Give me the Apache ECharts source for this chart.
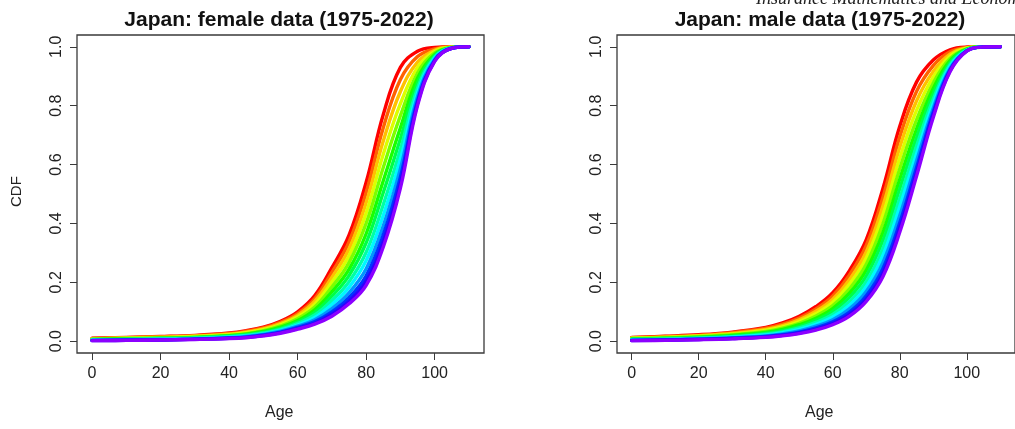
<!DOCTYPE html>
<html lang="en">
<head>
    <meta charset="UTF-8">
    <title>Japan CDF</title>
    <style>
        html, body { margin: 0; padding: 0; background: #fff; }
    </style>
</head>
<body>
<div id="main" style="width: 1015px;height:429px;"></div>

<script src="https://cdn.jsdelivr.net/npm/echarts@6.0.0/dist/echarts.min.js"></script>
<script>
    // ages where the curves are read
    var ages = [0, 10, 20, 30, 40, 45, 50, 55, 60, 65, 70, 75, 80, 85, 90, 95, 100, 105, 110];
    var years = [1975, 1979, 1983, 1987, 1991, 1995, 1999, 2003, 2007, 2011, 2015, 2019, 2022];

    // female CDF, one row per year
    var femaleCdf = [
        [.010, .013, .016, .020, .028, .036, .048, .068, .100, .155, .250, .360, .540, .770, .930, .985, .998, 1, 1],
        [.009, .012, .015, .019, .026, .034, .045, .064, .094, .145, .234, .337, .505, .725, .889, .967, .993, 1, 1],
        [.008, .011, .014, .017, .024, .031, .042, .060, .088, .136, .217, .313, .470, .680, .848, .948, .988, .999, 1],
        [.008, .010, .012, .016, .022, .029, .039, .056, .082, .126, .201, .290, .435, .635, .807, .930, .984, .998, 1],
        [.007, .009, .011, .014, .020, .026, .036, .052, .076, .116, .184, .267, .400, .590, .766, .911, .979, .998, 1],
        [.006, .008, .010, .013, .019, .024, .033, .048, .070, .107, .168, .244, .365, .545, .725, .893, .974, .997, 1],
        [.005, .007, .009, .012, .017, .022, .030, .044, .065, .098, .153, .223, .334, .505, .688, .876, .970, .997, 1],
        [.005, .006, .008, .010, .015, .020, .028, .040, .060, .089, .138, .202, .302, .464, .651, .859, .965, .997, 1],
        [.004, .005, .007, .009, .014, .018, .025, .037, .055, .081, .125, .183, .274, .428, .618, .844, .962, .996, 1],
        [.003, .005, .006, .008, .012, .016, .023, .034, .051, .073, .111, .164, .246, .392, .586, .830, .958, .996, 1],
        [.003, .004, .005, .007, .011, .014, .021, .031, .047, .067, .100, .148, .222, .361, .557, .817, .954, .995, 1],
        [.002, .003, .004, .007, .010, .013, .019, .029, .043, .061, .092, .136, .204, .338, .536, .807, .952, .995, 1],
        [.002, .003, .004, .006, .009, .012, .018, .027, .041, .058, .085, .127, .190, .320, .520, .800, .950, .995, 1]
    ];

    // male CDF, one row per year
    var maleCdf = [
        [.013, .017, .022, .031, .047, .062, .085, .118, .165, .240, .345, .520, .730, .880, .955, .990, .999, 1, 1],
        [.012, .016, .020, .029, .044, .058, .079, .110, .154, .225, .325, .490, .694, .848, .936, .983, .998, 1, 1],
        [.011, .014, .019, .026, .040, .053, .073, .102, .143, .209, .303, .460, .658, .816, .916, .975, .996, 1, 1],
        [.010, .013, .017, .024, .037, .049, .067, .094, .132, .194, .283, .430, .622, .784, .897, .968, .995, 1, 1],
        [.009, .011, .015, .022, .033, .044, .061, .086, .121, .178, .261, .400, .586, .752, .877, .960, .993, 1, 1],
        [.008, .010, .014, .020, .030, .040, .056, .078, .111, .163, .241, .370, .550, .720, .858, .953, .992, 1, 1],
        [.007, .009, .012, .017, .027, .036, .050, .071, .101, .149, .221, .343, .518, .691, .840, .946, .991, .999, 1],
        [.006, .007, .010, .015, .024, .032, .045, .064, .091, .135, .202, .316, .485, .662, .822, .939, .989, .999, 1],
        [.005, .006, .009, .014, .021, .029, .040, .057, .082, .122, .185, .292, .457, .636, .807, .933, .988, .999, 1],
        [.004, .005, .008, .012, .018, .025, .035, .051, .073, .110, .169, .268, .427, .612, .791, .927, .987, .999, 1],
        [.003, .004, .007, .010, .016, .022, .031, .045, .066, .099, .154, .247, .402, .589, .778, .922, .986, .999, 1],
        [.002, .004, .006, .009, .014, .020, .028, .041, .060, .091, .143, .232, .385, .572, .768, .918, .986, .999, 1],
        [.002, .003, .005, .008, .013, .018, .026, .038, .056, .085, .135, .220, .370, .560, .760, .915, .985, .999, 1]
    ];

    var xTicks = [0, 20, 40, 60, 80, 100];
    var yTicks = [0, 0.2, 0.4, 0.6, 0.8, 1.0];
    var titles = ['Japan: female data (1975-2022)', 'Japan: male data (1975-2022)'];

    var font = 'Liberation Sans';
    var frame = '#3a3a3a';

    // red -> violet like R's rainbow
    function lineColor(i, n) {
        var hue = 273 * i / (n - 1);
        return 'hsl(' + hue.toFixed(1) + ',100%,50%)';
    }

    function makeAxes(idx) {
        var x = {
            type: 'value', gridIndex: idx, min: -4.4, max: 114.4,
            splitLine: { show: false },
            axisLine: { show: false, onZero: false },
            axisTick: { show: true, inside: false, length: 7, customValues: xTicks,
                lineStyle: { color: frame, width: 1 } },
            axisLabel: { customValues: xTicks, margin: 13, fontFamily: font, fontSize: 16, color: '#222' }
        };
        var y = {
            type: 'value', gridIndex: idx, min: -0.04, max: 1.04,
            splitLine: { show: false },
            axisLine: { show: false, onZero: false },
            axisTick: { show: true, inside: false, length: 7, customValues: yTicks,
                lineStyle: { color: frame, width: 1 } },
            axisLabel: { customValues: yTicks, rotate: 90, margin: 12, fontFamily: font, fontSize: 16, color: '#222',
                formatter: function (v) { return v.toFixed(1); } }
        };
        return [x, y];
    }

    var xAxes = [], yAxes = [], series = [];
    [femaleCdf, maleCdf].forEach(function (table, g) {
        var ax = makeAxes(g);
        xAxes.push(ax[0]);
        yAxes.push(ax[1]);
        for (var i = 0; i < years.length; i++) {
            var pts = [];
            for (var k = 0; k < ages.length; k++) {
                pts.push([ages[k], table[i][k]]);
            }
            series.push({
                name: years[i] + (g === 0 ? ' F' : ' M'),
                type: 'line',
                xAxisIndex: g,
                yAxisIndex: g,
                data: pts,
                showSymbol: false,
                symbol: 'none',
                smooth: 0.4,
                lineStyle: { width: 3.4, color: lineColor(i, years.length), cap: 'round', join: 'round' },
                silent: true
            });
        }
    });

    var myChart = echarts.init(document.getElementById('main'), null, { renderer: 'canvas' });

    var option = {
        animation: false,
        backgroundColor: '#fff',
        title: [
            { text: titles[0], left: 274, top: 5, textAlign: 'center',
                textStyle: { fontFamily: font, fontSize: 21, fontWeight: 'bold', color: '#111' } },
            { text: titles[1], left: 815, top: 5, textAlign: 'center',
                textStyle: { fontFamily: font, fontSize: 21, fontWeight: 'bold', color: '#111' } }
        ],
        grid: [
            { left: 77, top: 35, width: 407, height: 318, show: true, borderColor: frame, borderWidth: 1.3, backgroundColor: 'transparent' },
            { left: 617, top: 35, width: 407, height: 318, show: true, borderColor: frame, borderWidth: 1.3, backgroundColor: 'transparent' }
        ],
        xAxis: xAxes,
        yAxis: yAxes,
        series: series,
        graphic: [
            { type: 'text', left: 265, top: 405,
                style: { text: 'Age', font: '16px ' + font, fill: '#222' } },
            { type: 'text', left: 805, top: 405,
                style: { text: 'Age', font: '16px ' + font, fill: '#222' } },
            { type: 'text', x: 9, y: 207, rotation: Math.PI / 2,
                style: { text: 'CDF', font: '15px ' + font, fill: '#222' } },
            // journal header, cut at the top edge
            { type: 'text', x: 756, y: -10,
                style: { text: 'Insurance Mathematics and Economics', font: 'italic 18px Liberation Serif', fill: '#222' } }
        ]
    };

    myChart.setOption(option);
</script>
</body>
</html>
